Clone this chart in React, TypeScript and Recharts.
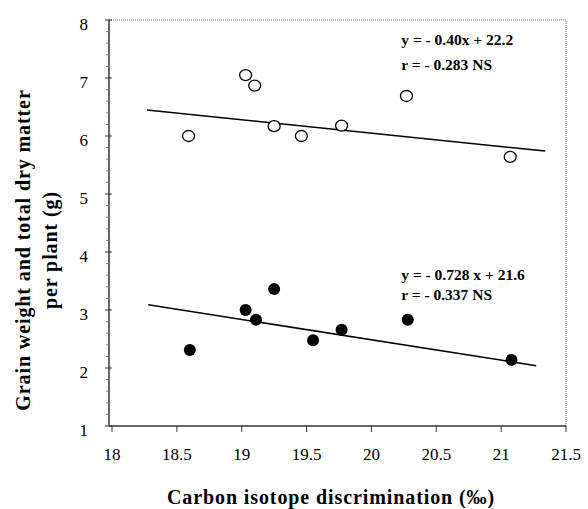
import React from 'react';
import { ScatterChart, Scatter, XAxis, YAxis, ReferenceLine, ReferenceDot } from 'recharts';

const xTicks = [18, 18.5, 19, 19.5, 20, 20.5, 21, 21.5];
const yTicks = [
  1, 1.2, 1.4, 1.6, 1.8, 2, 2.2, 2.4, 2.6, 2.8, 3, 3.2, 3.4, 3.6, 3.8, 4, 4.2, 4.4, 4.6, 4.8,
  5, 5.2, 5.4, 5.6, 5.8, 6, 6.2, 6.4, 6.6, 6.8, 7, 7.2, 7.4, 7.6, 7.8, 8,
];

const xOpen = [18.59, 19.03, 19.1, 19.25, 19.46, 19.77, 20.27, 21.07];
const yOpen = [6.0, 7.05, 6.87, 6.17, 6.0, 6.18, 6.69, 5.64];
const xFilled = [18.6, 19.03, 19.11, 19.25, 19.55, 19.77, 20.28, 21.08];
const yFilled = [2.31, 3.0, 2.83, 3.36, 2.48, 2.66, 2.83, 2.14];

const xTrendUpper = [18.27, 21.34];
const yTrendUpper = [6.45, 5.74];
const xTrendLower = [18.28, 21.27];
const yTrendLower = [3.09, 2.04];

const upperEq = ['y = - 0.40x + 22.2', 'r = - 0.283 NS'];
const lowerEq = ['y = - 0.728 x + 21.6', 'r = - 0.337 NS'];
const upperEqPos = { x: 20.23, y: 7.57 };
const lowerEqPos = { x: 20.23, y: 3.52 };

const xTitle = 'Carbon isotope discrimination (‰)';
const yTitle = ['Grain weight and total dry matter', 'per plant (g)'];

const zip = (xs: number[], ys: number[]) => xs.map((x, i) => ({ x, y: ys[i] }));
const openData = zip(xOpen, yOpen);
const filledData = zip(xFilled, yFilled);
const trendUpper = zip(xTrendUpper, yTrendUpper);
const trendLower = zip(xTrendLower, yTrendLower);

const SERIF = '"Liberation Serif", "Times New Roman", Times, serif';

const XTick = (props: any) => {
  const { x, y, payload } = props;
  return (
    <text x={x} y={y + 28} textAnchor="middle" fontFamily={SERIF} fontSize={17} fill="#000" style={{ fontFamily: SERIF }}>
      {payload.value}
    </text>
  );
};

// x here is the axis line position (tickSize=0, tickMargin=0)
const YTick = (props: any) => {
  const { x, y, payload } = props;
  const v = payload.value;
  const major = Math.abs(v - Math.round(v)) < 1e-6;
  if (!major) {
    return <line x1={x - 3} x2={x} y1={y} y2={y} stroke="#777" strokeWidth={1} />;
  }
  return (
    <g>
      <line x1={x - 4} x2={x + 3} y1={y} y2={y} stroke="#333" strokeWidth={1} />
      <text x={x - 21} y={y + 10} textAnchor="end" fontFamily={SERIF} fontSize={17} fill="#000" style={{ fontFamily: SERIF }}>
        {v}
      </text>
    </g>
  );
};

const OpenDot = (props: any) => (
  <ellipse cx={props.cx} cy={props.cy} rx={6} ry={5.5} fill="#fff" stroke="#000" strokeWidth={1.3} />
);
const FilledDot = (props: any) => <circle cx={props.cx} cy={props.cy} r={6} fill="#000" />;
const NoDot = () => <g />;

const eqLabel = (lines: string[], gap: number) => (props: any) => {
  const vb = props.viewBox || {};
  const cx = vb.x + (vb.width || 0) / 2;
  const cy = vb.y + (vb.height || 0) / 2;
  return (
    <g>
      {lines.map((t, i) => (
        <text key={i} x={cx} y={cy + i * gap} textAnchor="start" style={{ fontFamily: SERIF, fontWeight: 'bold', fontSize: 15.5 }} fill="#000">
          {t}
        </text>
      ))}
    </g>
  );
};

const XTitle = () => (
  <text x={331} y={504} textAnchor="middle" style={{ fontFamily: SERIF, fontWeight: 'bold', fontSize: 20, letterSpacing: 0.9 }} fill="#000">
    {xTitle}
  </text>
);

const YTitle = () => (
  <g>
    <text x={30} y={250} transform="rotate(-90, 30, 250)" textAnchor="middle" style={{ fontFamily: SERIF, fontWeight: 'bold', fontSize: 20, letterSpacing: 0.9 }} fill="#000">
      {yTitle[0]}
    </text>
    <text x={57} y={250} transform="rotate(-90, 57, 250)" textAnchor="middle" style={{ fontFamily: SERIF, fontWeight: 'bold', fontSize: 20, letterSpacing: 0.9 }} fill="#000">
      {yTitle[1]}
    </text>
  </g>
);

export default function App() {
  return (
    <div style={{ position: 'absolute', left: 0, top: 0, width: 588, height: 509, background: '#fff', fontFamily: SERIF }}>
      <ScatterChart width={588} height={509} margin={{ top: 20, right: 22, left: 0, bottom: 0 }}>
        <XAxis
          type="number"
          dataKey="x"
          domain={[18, 21.5]}
          ticks={xTicks}
          interval={0}
          padding={{ left: 3, right: 0 }}
          height={83}
          tickSize={6}
          tickMargin={0}
          tick={(p: any) => <XTick {...p} />}
          axisLine={{ stroke: '#333', strokeWidth: 1.5 }}
          tickLine={{ stroke: '#333', strokeWidth: 1 }}
          label={<XTitle />}
        />
        <YAxis
          type="number"
          dataKey="y"
          domain={[1, 8]}
          ticks={yTicks}
          interval={0}
          width={109}
          tickSize={0}
          tickMargin={0}
          tick={(p: any) => <YTick {...p} />}
          axisLine={{ stroke: '#333', strokeWidth: 1.5 }}
          tickLine={false}
          label={<YTitle />}
        />
        <ReferenceLine y={8} stroke="#999" strokeWidth={1.5} strokeDasharray="1 1" />
        <ReferenceLine x={21.5} stroke="#999" strokeWidth={1.5} strokeDasharray="1 1" />
        <Scatter data={trendUpper} line={{ stroke: '#000', strokeWidth: 1.5 }} shape={<NoDot />} isAnimationActive={false} />
        <Scatter data={trendLower} line={{ stroke: '#000', strokeWidth: 1.5 }} shape={<NoDot />} isAnimationActive={false} />
        <Scatter data={openData} shape={<OpenDot />} isAnimationActive={false} />
        <Scatter data={filledData} shape={<FilledDot />} isAnimationActive={false} />
        <ReferenceDot x={upperEqPos.x} y={upperEqPos.y} r={0} fill="none" stroke="none" label={eqLabel(upperEq, 25)} />
        <ReferenceDot x={lowerEqPos.x} y={lowerEqPos.y} r={0} fill="none" stroke="none" label={eqLabel(lowerEq, 20)} />
      </ScatterChart>
    </div>
  );
}
